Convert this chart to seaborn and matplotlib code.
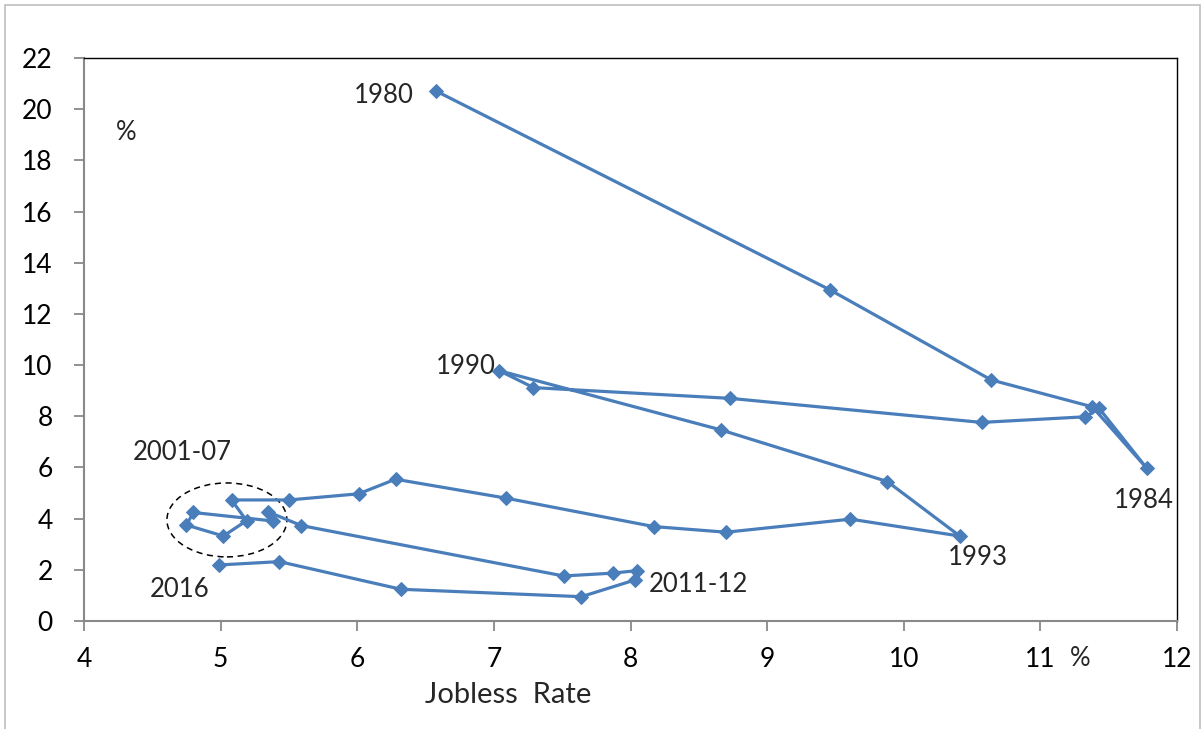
import pandas as pd
import seaborn as sns
import matplotlib.pyplot as plt
from matplotlib.patches import Ellipse, Rectangle

years = list(range(1980, 2017))
jobless = [6.58, 9.46, 10.64, 11.38, 11.78, 11.43, 11.33, 10.57, 8.73, 7.29,
           7.04, 8.66, 9.88, 10.41, 9.61, 8.70, 8.17, 7.09, 6.28, 6.01,
           5.50, 5.08, 5.19, 5.02, 4.75, 4.80, 5.38, 5.35, 5.59, 7.51,
           7.87, 8.05, 8.03, 7.64, 6.32, 5.43, 4.99]
rate = [20.70, 12.94, 9.42, 8.37, 5.96, 8.31, 7.98, 7.76, 8.70, 9.12,
        9.78, 7.47, 5.45, 3.32, 3.98, 3.47, 3.69, 4.80, 5.54, 4.97,
        4.73, 4.73, 3.92, 3.32, 3.75, 4.24, 3.91, 4.26, 3.73, 1.76,
        1.87, 1.97, 1.60, 0.95, 1.24, 2.32, 2.19]

x_ticks = [4, 5, 6, 7, 8, 9, 10, 11, 12]
y_ticks = [0, 2, 4, 6, 8, 10, 12, 14, 16, 18, 20, 22]

BLUE = '#4a7ebb'
GRAY = '#898989'


def draw(df):
    sns.set_style('white')
    plt.rcParams['font.family'] = ['Lato', 'DejaVu Sans']

    fig = plt.figure(figsize=(12.03, 7.29), dpi=100)
    ax = fig.add_axes([84 / 1203, 1 - 621 / 729, 1093 / 1203, 563 / 729])

    sns.lineplot(data=df, x='jobless', y='rate', sort=False, estimator=None,
                 color=BLUE, linewidth=2.3, marker='D', markersize=7,
                 markeredgecolor=BLUE, ax=ax)

    ax.set_xlim(4, 12)
    ax.set_ylim(0, 22)
    ax.set_xticks(x_ticks)
    ax.set_yticks(y_ticks)
    ax.tick_params(axis='both', labelsize=19, colors=GRAY, labelcolor='black')
    ax.tick_params(axis='x', direction='out', length=7, width=1.3, pad=12, bottom=True)
    ax.tick_params(axis='y', direction='out', length=7.5, width=1.3, pad=15, left=True)

    for side in ['left', 'bottom']:
        ax.spines[side].set_color(GRAY)
        ax.spines[side].set_linewidth(1.5)
    for side in ['top', 'right']:
        ax.spines[side].set_color('black')
        ax.spines[side].set_linewidth(1.0)

    ax.set_xlabel('Jobless  Rate', fontsize=21)
    ax.set_ylabel('')
    ax.xaxis.set_label_coords((508 - 84) / 1093, -(695 - 621) / 563)
    ax.xaxis.label.set_va('center')

    # year annotations
    ax.text(6.41, 20.53, '1980', fontsize=18.5, ha='right', va='center')
    ax.text(7.01, 9.93, '1990', fontsize=18.5, ha='right', va='center')
    ax.text(4.72, 6.57, '2001-07', fontsize=18.5, ha='center', va='center')
    ax.text(4.70, 1.25, '2016', fontsize=18.5, ha='center', va='center')
    ax.text(8.13, 1.41, '2011-12', fontsize=18.5, ha='left', va='center')
    ax.text(10.54, 2.50, '1993', fontsize=18.5, ha='center', va='center')
    ax.text(11.76, 4.70, '1984', fontsize=18.5, ha='center', va='center')
    ax.text(4.31, 19.08, '%', fontsize=18.5, ha='center', va='center')
    ax.text(11.29, -1.45, '%', fontsize=18.5, ha='center', va='center', clip_on=False)

    ax.add_patch(Ellipse((5.046, 3.95), 0.878, 2.89, fill=False,
                         edgecolor='black', linestyle=(0, (4, 3)), linewidth=1.1))

    fig.patches.append(Rectangle((5 / 1203, -0.01), 1195 / 1203, 1.01 - 5 / 729,
                                 transform=fig.transFigure, fill=False,
                                 edgecolor='#bfbfbf', linewidth=1.2))

    fig.savefig('out.png', dpi=100)


df = pd.DataFrame({'year': years, 'jobless': jobless, 'rate': rate})
draw(df)
